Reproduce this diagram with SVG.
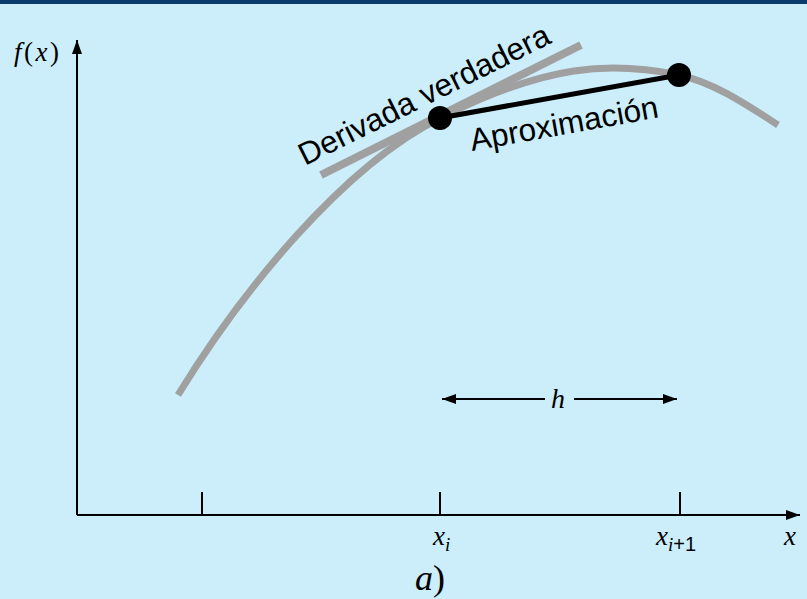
<svg xmlns="http://www.w3.org/2000/svg" width="807" height="599" viewBox="0 0 807 599">
<defs>
<style>
.ax{stroke:#000;stroke-width:2;fill:none}
.gray{stroke:#a0a0a0;fill:none}
.math{font-family:"Liberation Serif","DejaVu Serif",serif;font-style:italic;fill:#000}
.sans{font-family:"Liberation Sans",Arial,sans-serif;fill:#000}
</style>
<marker id="ah" viewBox="0 0 14 10" refX="14" refY="5" markerWidth="14" markerHeight="10" markerUnits="userSpaceOnUse" orient="auto-start-reverse">
<path d="M0,0 L14,5 L0,10 Z" fill="#000"/>
</marker>
</defs>
<rect width="807" height="599" fill="#cbeefa"/>
<rect width="807" height="4" fill="#0b3a6d"/>
<g id="axes">
<line class="ax" x1="77" y1="515" x2="77" y2="40" marker-end="url(#ah)"/>
<line class="ax" x1="77" y1="515" x2="800" y2="515" marker-end="url(#ah)"/>
<line class="ax" x1="202" y1="492" x2="202" y2="515"/>
<line class="ax" x1="440" y1="492" x2="440" y2="515"/>
<line class="ax" x1="680" y1="492" x2="680" y2="515"/>
</g>
<g id="curve">
<path class="gray" stroke-width="7" d="M178,395 C240.4,293 341.7,167.2 440,118 C547,64 610.4,61 679,75 C713.3,82 748.6,106 778,125"/>
</g>
<g id="tangent">
<line class="gray" stroke-width="8" x1="321" y1="175" x2="581" y2="45"/>
</g>
<g id="connectors">
<line stroke="#000" stroke-width="5" x1="440" y1="118" x2="679" y2="75"/>
<line class="ax" x1="442" y1="399" x2="545" y2="399" marker-start="url(#ah)"/>
<line class="ax" x1="574" y1="399" x2="677" y2="399" marker-end="url(#ah)"/>
</g>
<g id="point-xi"><circle cx="440" cy="118" r="12" fill="#000"/></g>
<g id="point-xi1"><circle cx="679" cy="75" r="12" fill="#000"/></g>
<g id="labels">
<text class="sans" font-size="31.5" transform="translate(305,166) rotate(-26.5)">Derivada verdadera</text>
<text class="sans" font-size="31.5" transform="translate(472,151) rotate(-10.2)">Aproximación</text>
<text class="math" font-size="27" x="14" y="61" letter-spacing="2.5">f<tspan font-style="normal">(</tspan>x<tspan font-style="normal">)</tspan></text>
<text class="math" font-size="28" x="558" y="408" text-anchor="middle">h</text>
<text class="math" font-size="27" x="433" y="545">x<tspan font-size="19" dy="6">i</tspan></text>
<text class="math" font-size="27" x="656" y="545">x<tspan font-size="19" dy="6">i</tspan><tspan class="sans" font-style="normal" font-size="20">+1</tspan></text>
<text class="math" font-size="27" x="784" y="545">x</text>
<text class="math" font-size="36" x="415" y="590">a<tspan font-style="normal">)</tspan></text>
</g>
</svg>
